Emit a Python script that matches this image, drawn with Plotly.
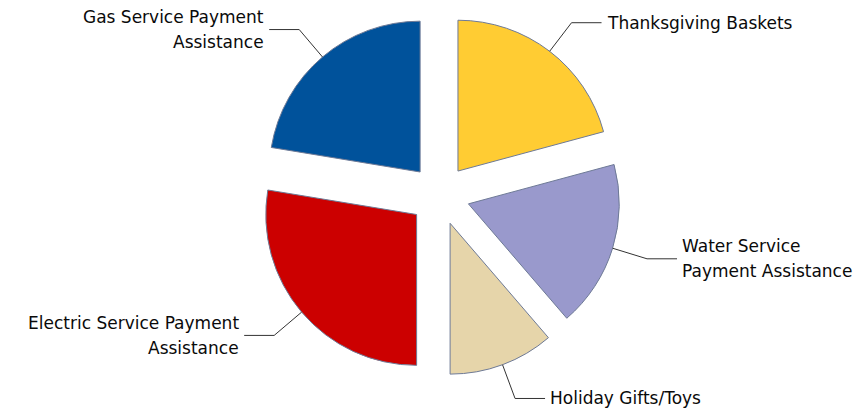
import math
import plotly.graph_objects as go

# ---- data (clockwise from 12 o'clock) ----
labels = [
    "Thanksgiving Baskets",
    "Water Service Payment Assistance",
    "Holiday Gifts/Toys",
    "Electric Service Payment Assistance",
    "Gas Service Payment Assistance",
]
label_lines = [
    ["Thanksgiving Baskets"],
    ["Water Service", "Payment Assistance"],
    ["Holiday Gifts/Toys"],
    ["Electric Service Payment", "Assistance"],
    ["Gas Service Payment", "Assistance"],
]
values = [20.8, 17.9, 11.3, 27.6, 22.4]
colors = ["#FFCC33", "#9999CC", "#E6D5AA", "#CC0000", "#00529B"]

# ---- layout geometry (style) ----
W, H = 862, 409
MT, MB, ML, MR = 14, 33, 0, 0
DOM_X = [0.02, 1.0]
PULL = 0.2
ELBOW_R = 217
HSEG = 30
GAP = 3
LINE_H = 25
FONT_SIZE = 17

plot_w = W - ML - MR
plot_h = H - MT - MB
cx = ML + plot_w * (DOM_X[0] + DOM_X[1]) / 2
cy = MT + plot_h / 2
r = min(plot_w * (DOM_X[1] - DOM_X[0]), plot_h) / (2 + 2 * PULL)


def to_paper(px, py):
    return (px - ML) / plot_w, 1 - (py - MT) / plot_h


fig = go.Figure(
    go.Pie(
        labels=labels,
        values=values,
        sort=False,
        direction="clockwise",
        rotation=0,
        pull=[PULL] * len(values),
        marker=dict(colors=colors, line=dict(color="#6E7A96", width=1)),
        textinfo="none",
        hoverinfo="label+percent",
        domain=dict(x=DOM_X, y=[0, 1]),
        showlegend=False,
    )
)

total = sum(values)
cum = 0.0
shapes = []
annotations = []
for lines, v in zip(label_lines, values):
    mid = (cum + v / 2) / total * 2 * math.pi
    cum += v
    dx, dy = math.sin(mid), -math.cos(mid)
    sx, sy = cx + dx * r * (1 + PULL), cy + dy * r * (1 + PULL)
    ex, ey = cx + dx * ELBOW_R, cy + dy * ELBOW_R
    sign = 1 if dx > 0 else -1
    hx, hy = ex + sign * HSEG, ey
    p0 = to_paper(sx, sy)
    p1 = to_paper(ex, ey)
    p2 = to_paper(hx, hy)
    shapes.append(dict(
        type="path", xref="paper", yref="paper",
        path=f"M {p0[0]},{p0[1]} L {p1[0]},{p1[1]} L {p2[0]},{p2[1]}",
        line=dict(color="#333333", width=1),
    ))
    n = len(lines)
    for k, line in enumerate(lines):
        ly = hy + (k - (n - 1) / 2) * LINE_H
        tx, ty = to_paper(hx + sign * GAP, ly)
        annotations.append(dict(
            x=tx, y=ty, xref="paper", yref="paper",
            text=line, showarrow=False,
            xanchor="left" if sign > 0 else "right",
            yanchor="middle",
            align="left" if sign > 0 else "right",
            font=dict(family="DejaVu Sans", size=FONT_SIZE, color="#0a0a0a"),
        ))

fig.update_layout(
    width=W, height=H,
    margin=dict(t=MT, b=MB, l=ML, r=MR),
    paper_bgcolor="white",
    plot_bgcolor="white",
    shapes=shapes,
    annotations=annotations,
)

fig.write_html(
    "out.html",
    config={"displayModeBar": False},
    post_script="document.body.style.margin='0';document.body.style.overflow='hidden';",
)
